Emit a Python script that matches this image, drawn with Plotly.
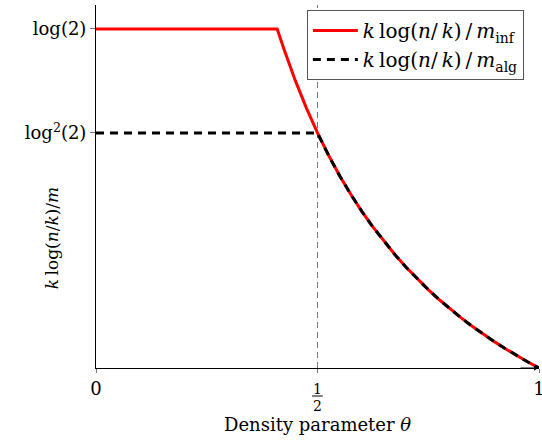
import plotly.graph_objects as go

# Density parameter theta and the two normalised rates
theta_inf = [0.0, 0.1, 0.2, 0.3, 0.409, 0.425, 0.45, 0.475, 0.5, 0.525, 0.55, 0.575, 0.6,
             0.625, 0.65, 0.675, 0.7, 0.725, 0.75, 0.775, 0.8, 0.825, 0.85, 0.875,
             0.9, 0.925, 0.95, 0.975, 1.0]
rate_inf = [0.6931, 0.6931, 0.6931, 0.6931, 0.6931, 0.6501, 0.5873, 0.5311, 0.4805, 0.4347,
            0.3931, 0.3552, 0.3203, 0.2883, 0.2587, 0.2314, 0.2059, 0.1823, 0.1602,
            0.1395, 0.1201, 0.1019, 0.0848, 0.0686, 0.0534, 0.0390, 0.0253, 0.0123, 0.0]
theta_alg = [0.0, 0.1, 0.2, 0.3, 0.4, 0.5, 0.525, 0.55, 0.575, 0.6, 0.625, 0.65, 0.675, 0.7,
             0.725, 0.75, 0.775, 0.8, 0.825, 0.85, 0.875, 0.9, 0.925, 0.95, 0.975, 1.0]
rate_alg = [0.4805, 0.4805, 0.4805, 0.4805, 0.4805, 0.4805, 0.4347, 0.3931, 0.3552, 0.3203,
            0.2883, 0.2587, 0.2314, 0.2059, 0.1823, 0.1602, 0.1395, 0.1201, 0.1019,
            0.0848, 0.0686, 0.0534, 0.0390, 0.0253, 0.0123, 0.0]

ytick_vals = [0.6931, 0.4805]
ytick_text = ["log(2)", "log<sup>2</sup>(2)"]
xtick_vals = [0, 0.5, 1]
xtick_text = ["0", "", "1"]
half_num, half_den = "1", "2"

FONT = "DejaVu Serif"
YMAX = 0.742
PLOT_H = 363
TS = "\u2009"  # thin space

fig = go.Figure()
fig.add_trace(go.Scatter(
    x=theta_inf, y=rate_inf, mode="lines",
    line=dict(color="#ff0000", width=3),
    name=f"<i>k</i>{TS}log(<i>n</i>/{TS}<i>k</i>){TS}/{TS}<i>m</i><sub>inf</sub>"))
fig.add_trace(go.Scatter(
    x=theta_alg, y=rate_alg, mode="lines",
    line=dict(color="black", width=3, dash="8px,6px"),
    name=f"<i>k</i>{TS}log(<i>n</i>/{TS}<i>k</i>){TS}/{TS}<i>m</i><sub>alg</sub>"))

# vertical dashed guide at theta = 1/2
fig.add_shape(type="line", xref="x", yref="y", x0=0.5, x1=0.5, y0=0, y1=YMAX,
              line=dict(color="#777777", width=1, dash="6px,4px"), layer="below")

# axis arrows
fig.add_annotation(x=0, y=YMAX + 0.003, xref="x", yref="y", ax=0, ay=20,
                   showarrow=True, arrowhead=2, arrowsize=1, arrowwidth=1,
                   arrowcolor="black", text="")
fig.add_annotation(x=1, y=0, xref="x", yref="y", ax=-20, ay=0,
                   showarrow=True, arrowhead=2, arrowsize=1, arrowwidth=1,
                   arrowcolor="black", text="")

# fraction 1/2 at theta = 0.5
fig.add_annotation(x=0.5, y=0, xref="x", yref="paper", yanchor="top", yshift=-11,
                   text=half_num, showarrow=False,
                   font=dict(family=FONT, size=14, color="black"))
fig.add_annotation(x=0.5, y=0, xref="x", yref="paper", yanchor="top", yshift=-28,
                   text=half_den, showarrow=False,
                   font=dict(family=FONT, size=14, color="black"))
fig.add_shape(type="line", xref="x", yref="paper", x0=0.488, x1=0.512,
              y0=-28 / PLOT_H, y1=-28 / PLOT_H, line=dict(color="black", width=1))

# x-axis title
fig.add_annotation(x=0.5, y=0, xref="paper", yref="paper", yanchor="middle",
                   yshift=-56, text="Density parameter <i>θ</i>", showarrow=False,
                   font=dict(family=FONT, size=18, color="black"))

# y-axis title
fig.add_annotation(x=-0.099, y=0.358, xref="paper", yref="paper", textangle=-90,
                   xanchor="center", yanchor="middle",
                   text=f"<i>k</i>{TS}log(<i>n</i>/<i>k</i>)/<i>m</i>", showarrow=False,
                   font=dict(family=FONT, size=17, color="black"))

fig.update_layout(
    width=542, height=441,
    margin=dict(l=96, r=3, t=5, b=73, autoexpand=False),
    plot_bgcolor="white", paper_bgcolor="white",
    font=dict(family=FONT, size=18, color="black"),
    showlegend=True,
    legend=dict(x=0.476, y=0.986, xanchor="left", yanchor="top",
                bordercolor="#555555", borderwidth=1, bgcolor="white",
                font=dict(family=FONT, size=20), tracegroupgap=0,
                itemwidth=45),
    xaxis=dict(range=[0, 1], showgrid=False, zeroline=False, automargin=False,
               showline=True, linecolor="black", linewidth=1,
               tickmode="array", tickvals=xtick_vals, ticktext=xtick_text,
               ticks="outside", ticklen=4, tickcolor="#777777",
               ticklabeloverflow="allow",
               tickfont=dict(family=FONT, size=18)),
    yaxis=dict(range=[0, YMAX], showgrid=False, zeroline=False, automargin=False,
               showline=True, linecolor="black", linewidth=1,
               tickmode="array", tickvals=ytick_vals, ticktext=ytick_text,
               ticks="outside", ticklen=5, tickcolor="#777777",
               tickfont=dict(family=FONT, size=18)),
)

fig.write_html("out.html", config={"displayModeBar": False},
               post_script="document.body.style.margin='0';document.body.style.padding='0';")
